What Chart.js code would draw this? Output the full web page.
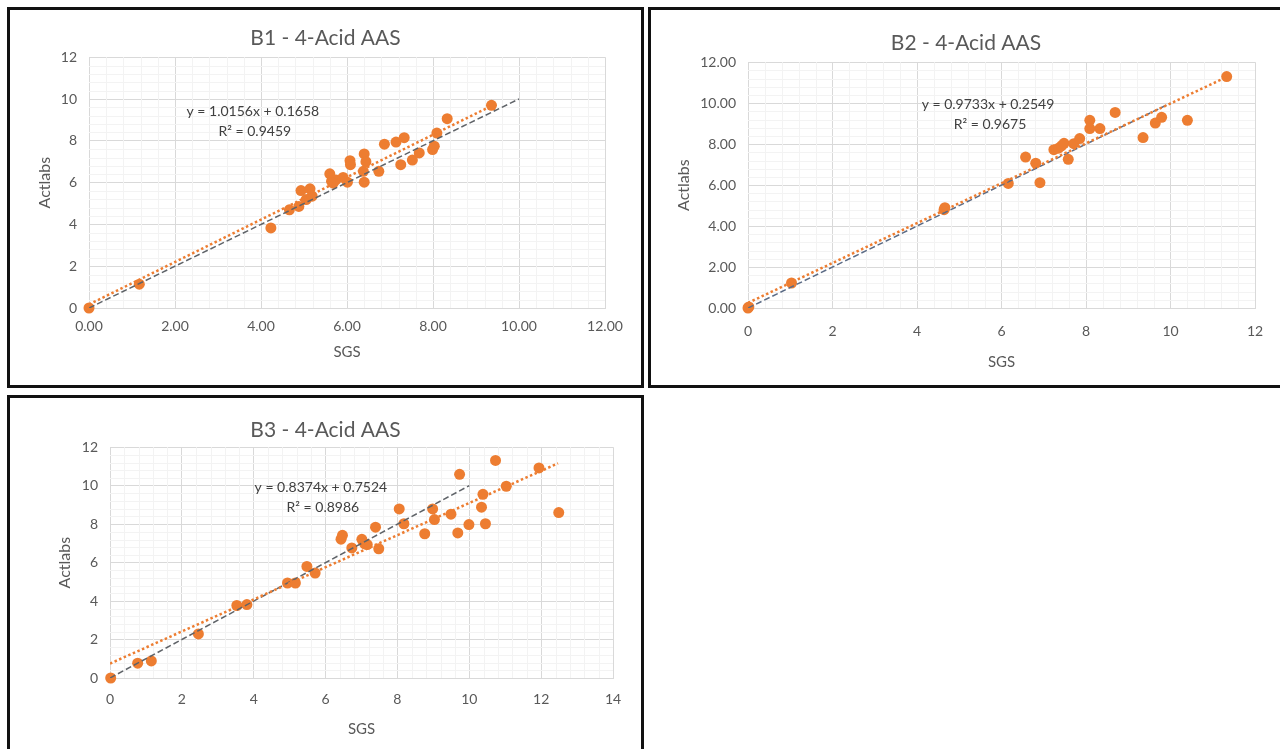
<!DOCTYPE html>
<html><head><meta charset="utf-8">
<script src="https://cdn.jsdelivr.net/npm/chart.js@4.4.1/dist/chart.umd.min.js"></script>
<style>
html,body{margin:0;padding:0;background:#fff;overflow:hidden;width:1280px;height:749px;position:relative;}
.box{position:absolute;border:3px solid #111;box-sizing:border-box;background:#fff;overflow:hidden;}
.box canvas{position:absolute;left:0;top:0;}
</style></head><body>
<div class="box" style="left:7px;top:7px;width:637px;height:381px;"><canvas id="c1" width="631" height="375"></canvas></div>
<div class="box" style="left:648px;top:7px;width:640px;height:381px;"><canvas id="c2" width="630" height="375"></canvas></div>
<div class="box" style="left:7px;top:395px;width:637px;height:400px;"><canvas id="c3" width="631" height="360"></canvas></div>
<script>
// ---------- DATA ----------
const b1Title = 'B1 - 4-Acid AAS';
const b1Sgs = [0, 1.17, 4.23, 4.66, 4.88, 4.93, 5.14, 5.05, 5.19, 5.60, 5.64, 5.74, 5.91, 6.01, 5.68, 6.07, 6.08, 6.40, 6.44, 6.38, 6.40, 6.74, 6.87, 7.14, 7.33, 7.25, 7.52, 7.68, 7.99, 8.03, 8.09, 8.33, 9.36];
const b1Act = [0, 1.14, 3.83, 4.70, 4.86, 5.62, 5.70, 5.19, 5.35, 6.42, 6.06, 6.13, 6.25, 6.02, 5.97, 7.05, 6.86, 7.37, 7.00, 6.54, 6.02, 6.54, 7.84, 7.94, 8.15, 6.86, 7.08, 7.42, 7.58, 7.74, 8.37, 9.06, 9.70];
const b1TrendX = [0, 9.36];
const b1TrendY = [0.17, 9.67];
const b1EqText = ['y = 1.0156x + 0.1658', 'R\u00B2 = 0.9459'];
const b1XTickLabels = ['0.00', '2.00', '4.00', '6.00', '8.00', '10.00', '12.00'];
const b1YTickLabels = ['0', '2', '4', '6', '8', '10', '12'];

const b2Title = 'B2 - 4-Acid AAS';
const b2Sgs = [0, 0.02, 1.03, 4.64, 4.66, 6.16, 6.57, 6.81, 6.91, 7.24, 7.35, 7.42, 7.48, 7.58, 7.71, 7.85, 8.09, 8.09, 8.33, 8.69, 9.35, 9.64, 9.79, 10.40, 11.33];
const b2Act = [0, 0.05, 1.22, 4.80, 4.90, 6.08, 7.37, 7.07, 6.12, 7.73, 7.80, 7.92, 8.04, 7.26, 8.02, 8.27, 9.16, 8.76, 8.76, 9.55, 8.32, 9.03, 9.31, 9.16, 11.30];
const b2TrendX = [0, 11.33];
const b2TrendY = [0.25, 11.28];
const b2EqText = ['y = 0.9733x + 0.2549', 'R\u00B2 = 0.9675'];
const b2XTickLabels = ['0', '2', '4', '6', '8', '10', '12'];
const b2YTickLabels = ['0.00', '2.00', '4.00', '6.00', '8.00', '10.00', '12.00'];

const b3Title = 'B3 - 4-Acid AAS';
const b3Sgs = [0.02, 0.77, 1.15, 2.46, 3.53, 3.81, 4.94, 5.16, 5.48, 5.71, 6.43, 6.47, 6.73, 7.01, 7.09, 7.16, 7.39, 7.48, 8.05, 8.18, 8.76, 8.98, 9.03, 9.49, 9.68, 9.73, 9.99, 10.34, 10.38, 10.45, 10.73, 11.03, 11.94, 12.49];
const b3Act = [0, 0.77, 0.89, 2.29, 3.77, 3.82, 4.94, 4.94, 5.80, 5.46, 7.22, 7.42, 6.76, 7.21, 6.97, 6.94, 7.84, 6.72, 8.79, 8.02, 7.50, 8.79, 8.24, 8.52, 7.54, 10.59, 7.98, 8.88, 9.55, 8.02, 11.31, 9.97, 10.92, 8.60];
const b3TrendX = [0, 12.47];
const b3TrendY = [0.75, 11.16];
const b3EqText = ['y = 0.8374x + 0.7524', 'R\u00B2 = 0.8986'];
const b3XTickLabels = ['0', '2', '4', '6', '8', '10', '12', '14'];
const b3YTickLabels = ['0', '2', '4', '6', '8', '10', '12'];

const refLineX = [0, 10];
const refLineY = [0, 10];
const xAxisTitle = 'SGS';
const yAxisTitle = 'Actlabs';

// ---------- RENDER ----------
const FONT = 'Lato, "Open Sans", "DejaVu Sans", sans-serif';
const TXT = '#595959';
const ORANGE = '#ED7D31';
const GRID = '#d9d9d9';

function pts(xs, ys) { return xs.map((x, i) => ({x: x, y: ys[i]})); }

const minorGrid = {
  id: 'minorGrid',
  beforeDatasetsDraw(chart, args, opts) {
    const {ctx, chartArea: a, scales: {x, y}} = chart;
    ctx.save();
    ctx.strokeStyle = '#f3f3f3';
    ctx.lineWidth = 1;
    const xs = opts.xStep, ys = opts.yStep;
    for (let v = x.min + xs; v < x.max - 1e-9; v += xs) {
      if (Math.abs(v / opts.xMajor - Math.round(v / opts.xMajor)) < 1e-6) continue;
      const p = Math.round(x.getPixelForValue(v)) + 0.5;
      ctx.beginPath(); ctx.moveTo(p, a.top); ctx.lineTo(p, a.bottom); ctx.stroke();
    }
    for (let v = y.min + ys; v < y.max - 1e-9; v += ys) {
      if (Math.abs(v / opts.yMajor - Math.round(v / opts.yMajor)) < 1e-6) continue;
      const p = Math.round(y.getPixelForValue(v)) + 0.5;
      ctx.beginPath(); ctx.moveTo(a.left, p); ctx.lineTo(a.right, p); ctx.stroke();
    }
    ctx.restore();
  }
};

const equationLabel = {
  id: 'equationLabel',
  afterDatasetsDraw(chart, args, opts) {
    const {ctx, scales: {x, y}} = chart;
    ctx.save();
    ctx.font = '14px ' + FONT;
    ctx.fillStyle = '#404040';
    ctx.textAlign = 'center';
    ctx.textBaseline = 'middle';
    const px = x.getPixelForValue(opts.x), py = y.getPixelForValue(opts.y);
    ctx.fillText(opts.lines[0], px, py);
    ctx.fillText(opts.lines[1], px + opts.dx2, py + 20);
    ctx.restore();
  }
};

function makeChart(id, c) {
  return new Chart(document.getElementById(id), {
    type: 'scatter',
    data: {
      datasets: [
        {label: 'data', data: pts(c.sx, c.sy), backgroundColor: ORANGE, borderWidth: 0, pointRadius: 5.5, pointHoverRadius: 5.5, order: 3, clip: false},
        {label: '1:1', data: pts(refLineX, refLineY), showLine: true, borderColor: c.refColor, borderWidth: 1.5, borderDash: [6, 3], pointRadius: 0, order: 2},
        {label: 'trend', data: pts(c.tx, c.ty), showLine: true, borderColor: ORANGE, borderWidth: 2.5, borderDash: [2.5, 2.5], pointRadius: 0, order: 1}
      ]
    },
    options: {
      responsive: false, animation: false, devicePixelRatio: 1,
      layout: {padding: {left: 0, right: 0, top: 0, bottom: 0}},
      plugins: {
        legend: {display: false}, tooltip: {enabled: false},
        title: {display: true, text: c.title, color: TXT, font: {family: FONT, size: 21, weight: 'normal', lineHeight: 1.2}, padding: {top: c.titleTop, bottom: c.titleBottom}},
        minorGrid: {xStep: c.xMajor / 5, yStep: c.yMajor / 5, xMajor: c.xMajor, yMajor: c.yMajor},
        equationLabel: {x: c.eqX, y: c.eqY, lines: c.eq, dx2: 2}
      },
      scales: {
        x: {
          type: 'linear', min: 0, max: c.xMax,
          afterFit(s) { s.height = c.xAxisH; },
          ticks: {stepSize: c.xMajor, color: TXT, font: {family: FONT, size: 14}, padding: c.xTickPad, maxRotation: 0,
            callback: (v) => c.xLabels[Math.round(v / c.xMajor)]},
          grid: {color: GRID, drawTicks: false, lineWidth: 1},
          border: {color: GRID},
          title: {display: true, text: xAxisTitle, color: TXT, font: {family: FONT, size: 15}, padding: {top: 0, bottom: c.xTitlePad}}
        },
        y: {
          type: 'linear', min: 0, max: 12,
          afterFit(s) { s.width = c.plotLeft; },
          ticks: {stepSize: c.yMajor, color: TXT, font: {family: FONT, size: 14}, padding: 12,
            callback: (v) => c.yLabels[Math.round(v / c.yMajor)]},
          grid: {color: GRID, drawTicks: false, lineWidth: 1},
          border: {color: GRID},
          title: {display: true, text: yAxisTitle, color: TXT, font: {family: FONT, size: 16}, padding: {top: c.yTitlePad, bottom: 0}}
        },
        ySpace: {
          type: 'linear', position: 'right', min: 0, max: 12,
          afterFit(s) { s.width = c.rightPad; },
          ticks: {display: false}, grid: {display: false}, border: {display: false}
        }
      }
    },
    plugins: [minorGrid, equationLabel]
  });
}

makeChart('c1', {title: b1Title, sx: b1Sgs, sy: b1Act, tx: b1TrendX, ty: b1TrendY, eq: b1EqText,
  xLabels: b1XTickLabels, yLabels: b1YTickLabels, xMax: 12, xMajor: 2, yMajor: 2,
  plotLeft: 79, rightPad: 36, titleTop: 16, titleBottom: 6, xAxisH: 77, xTickPad: 10, xTitlePad: 24, yTitlePad: 25,
  eqX: 3.81, eqY: 9.38, refColor: '#5f6368'});

makeChart('c2', {title: b2Title, sx: b2Sgs, sy: b2Act, tx: b2TrendX, ty: b2TrendY, eq: b2EqText,
  xLabels: b2XTickLabels, yLabels: b2YTickLabels, xMax: 12, xMajor: 2, yMajor: 2,
  plotLeft: 97, rightPad: 26, titleTop: 21, titleBottom: 6, xAxisH: 77, xTickPad: 15, xTitlePad: 14, yTitlePad: 23,
  eqX: 5.68, eqY: 9.95, refColor: '#5b6b85'});

makeChart('c3', {title: b3Title, sx: b3Sgs, sy: b3Act, tx: b3TrendX, ty: b3TrendY, eq: b3EqText,
  xLabels: b3XTickLabels, yLabels: b3YTickLabels, xMax: 14, xMajor: 2, yMajor: 2,
  plotLeft: 100, rightPad: 28, titleTop: 20, titleBottom: 4, xAxisH: 80, xTickPad: 13, xTitlePad: 20, yTitlePad: 45,
  eqX: 5.87, eqY: 9.92, refColor: '#5f6368'});
</script>
</body></html>
